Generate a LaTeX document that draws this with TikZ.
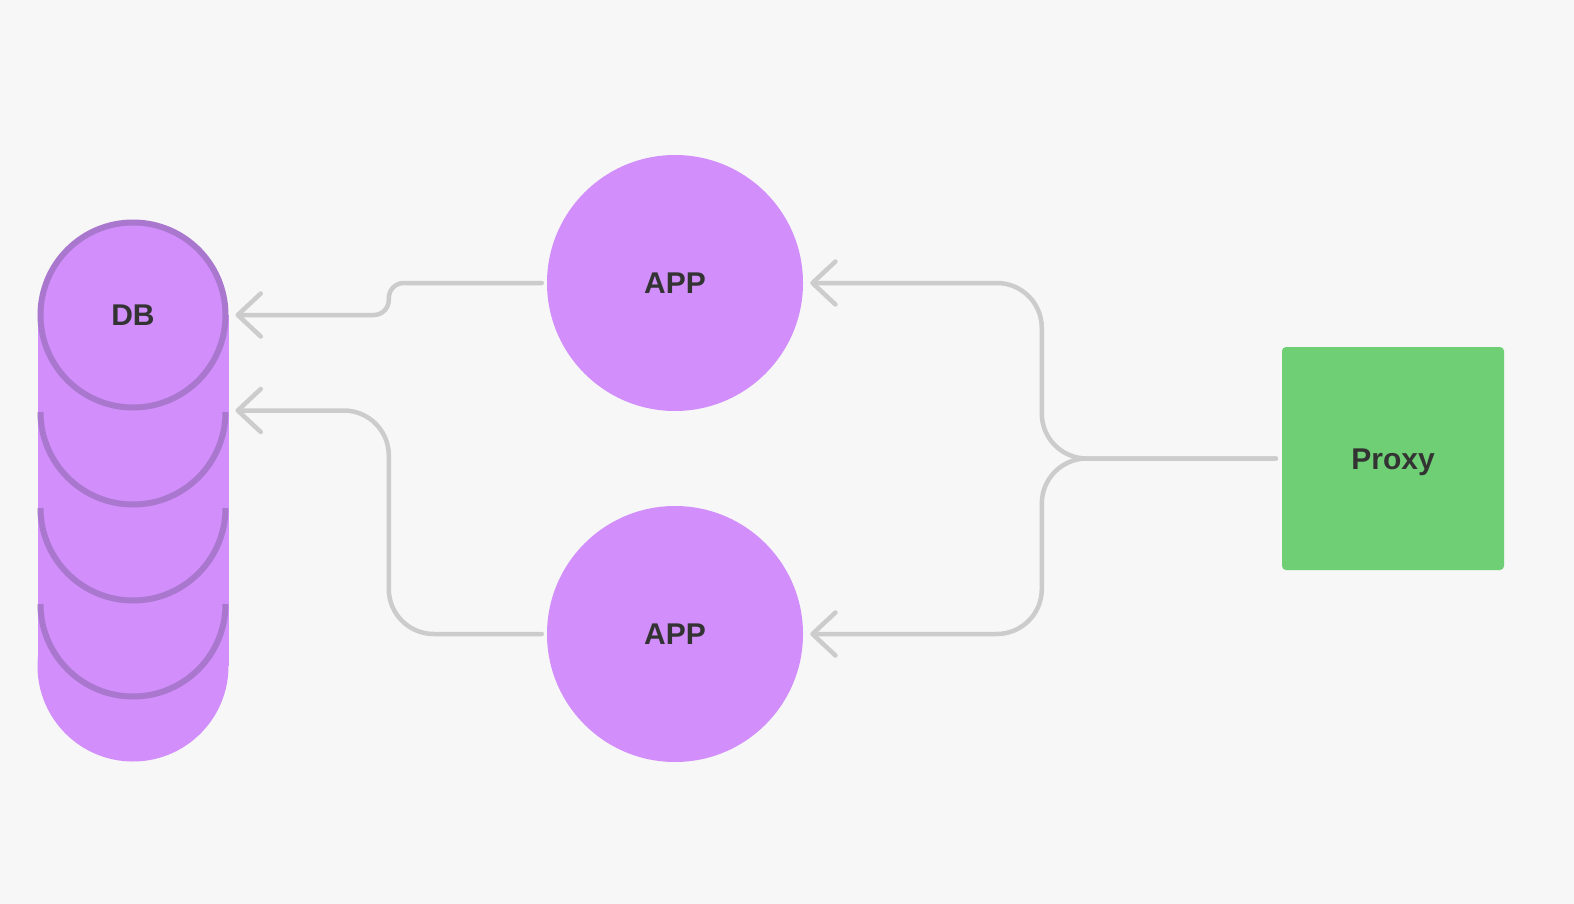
\documentclass[tikz,border=0pt]{standalone}
\usepackage{fontspec}
\setmainfont{Liberation Sans}
\usetikzlibrary{positioning,arrows.meta}
\definecolor{bgcol}{HTML}{F7F7F7}
\definecolor{dbfill}{HTML}{D28EFB}
\definecolor{dbline}{HTML}{A977CD}
\definecolor{proxyfill}{HTML}{6FCF75}
\definecolor{linkcol}{HTML}{CCCCCC}
\definecolor{textcol}{HTML}{333333}
\tikzset{
	label text/.style={text=textcol, font=\fontsize{30}{36}\selectfont\bfseries, text height=21.5pt, text depth=0pt},
	dbnode/.style={circle, fill=dbfill, draw=dbline, line width=6pt, minimum size=185pt, inner sep=0pt, label text},
	appnode/.style={circle, fill=dbfill, minimum size=256pt, inner sep=0pt, label text},
	proxynode/.style={rectangle, fill=proxyfill, rounded corners=4pt, minimum width=222pt, minimum height=223pt, label text},
	link/.style={draw=linkcol, line width=4.5pt, line cap=round, -{Straight Barb[length=23pt,width=43pt,round]}, shorten >=7pt, shorten <=5pt}
}
\begin{document}
\begin{tikzpicture}[x=1pt,y=-1pt]
	\fill[bgcol] (0,0) rectangle (1574,904);
	% stack under the DB
	\fill[dbfill] (37.5,315) rectangle (228.5,666);
	\fill[dbfill] (133,666) circle (95.5);
	\foreach \y in {412,508,604}
		\draw[dbline, line width=6pt] (40.5,\y) arc[start angle=180, end angle=0, radius=92.5];
	\node[dbnode] (db) at (133,315){DB};
	\node[appnode] (app1) at (675,283){APP};
	\node[appnode] (app2) at (675,634){APP};
	\node[proxynode] (proxy) at (1393,458.5){Proxy};
	\draw[link, rounded corners=15pt] (app1.west) -- ++(-158,0) |- (db.east);
	\draw[link, rounded corners=45pt] (app2.west) -- ++(-158,0) |- (db.south -| db.east);
	\draw[link, rounded corners=45pt, shorten <=6pt] (proxy.west) -- ++(-240,0) |- (app1.east);
	\draw[link, rounded corners=45pt, shorten <=6pt] (proxy.west) -- ++(-240,0) |- (app2.east);
\end{tikzpicture}
\end{document}
